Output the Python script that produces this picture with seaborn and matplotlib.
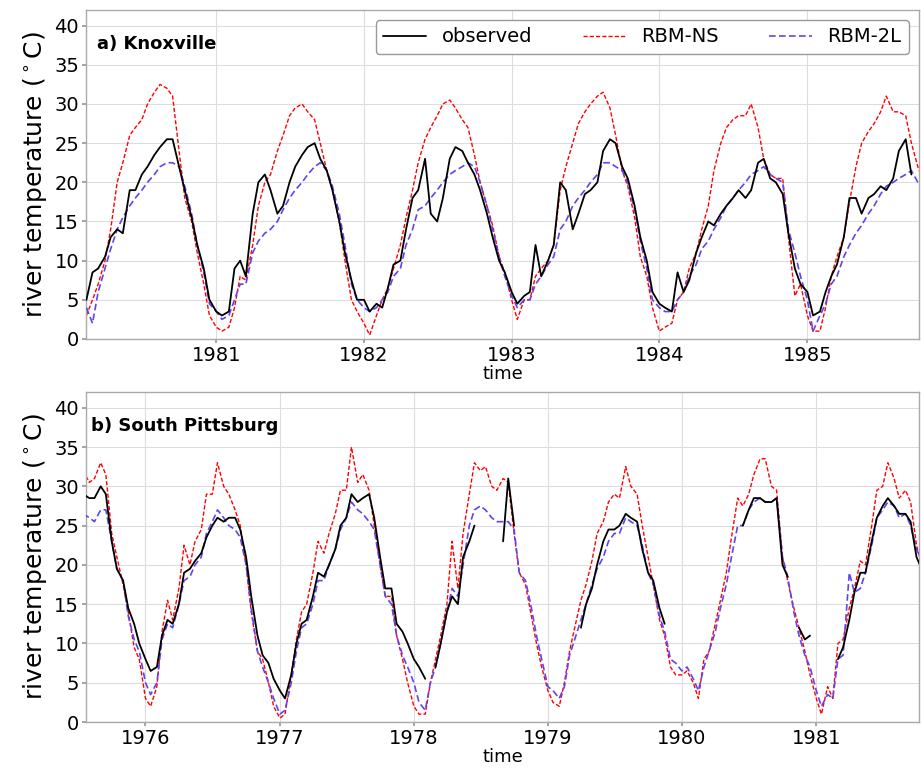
import matplotlib
matplotlib.use("Agg")
import matplotlib.pyplot as plt
import matplotlib.dates as mdates
import numpy as np
import pandas as pd
import seaborn as sns

nan = np.nan

# a) Knoxville -- values read on the 1st and 15th of each month, from 1980-02-15
knox_start = "1980-02-15"
knox_obs = [
    5, 8.5, 9, 10.5, 13, 14, 13.5, 19, 19, 21, 22, 23.5, 24.5, 25.5, 25.5, 22, 19, 15.5, 12, 9, 5,  # 1980
    3.5, 3, 3.5, 9, 10, 8, 16, 20, 21, 19, 16, 17, 20, 22, 23.5, 24.5, 25, 23, 21.5, 19, 15, 11, 7.5, 5,  # 1981
    5, 3.5, 4.5, 4, 6.5, 9.5, 10, 14, 18, 19, 23, 16, 15, 18, 23, 24.5, 24, 22.5, 21, 19, 16, 13, 10, 8.5,  # 1982
    6, 4.5, 5.5, 6, 12, 8, 10, 12, 20, 19, 14, 16, 18.5, 19, 20, 24, 25.5, 25, 22, 20.5, 17, 13, 10, 6,  # 1983
    4.5, 4, 3.5, 8.5, 6, 7.5, 11, 13, 15, 14.5, 16, 17, 18, 19, 18, 19, 22.5, 23, 20.5, 20, 18.5, 13.5, 9, 7,  # 1984
    6, 3, 3.5, 6, 8, 9.5, 13, 18, 18, 16, 18, 18.5, 19.5, 19, 20.5, 24, 25.5, 21, nan, nan,  # 1985
]
knox_ns = [
    3, 5, 7, 10, 14, 20, 22.5, 26, 27, 28, 30, 31.5, 32.5, 32, 31, 24, 18, 15, 11, 7, 3,
    1.5, 1, 1.5, 4, 8, 7.5, 12, 17, 20, 21, 24, 26, 28.5, 29.5, 30, 29, 28, 25, 21.5, 19, 15, 10, 5, 3.5,
    2, 0.5, 3, 5, 6.5, 9, 12, 15.5, 19, 22.5, 25.5, 27, 28.5, 30, 30.5, 29.5, 28, 27, 23.5, 20, 17, 14.5, 10.5, 8.5,
    5, 2.5, 5, 5, 8, 9, 10, 12, 19, 22, 25, 27.5, 29, 30, 31, 31.5, 29.5, 26, 21.5, 19.5, 15.5, 10.5, 8, 4,
    1, 1.5, 2, 5, 6, 9, 11, 14, 17, 21.5, 25, 27, 28, 28.5, 28.5, 30, 27, 23, 21, 20.5, 20.5, 13, 5.5, 7,
    3, 1, 1, 4, 8, 10.5, 13, 17.5, 22, 25, 26.5, 27.5, 29, 31, 29, 29, 28.5, 25, 22, 20,
]
knox_2l = [
    4, 2, 6, 9, 11.5, 14, 15.5, 17, 18, 19, 20, 21, 22, 22.5, 22.5, 22, 19.5, 16, 12, 8.5, 4.5,
    3.5, 2.5, 3, 5, 7, 7, 11, 12.5, 13.5, 14, 15, 16.5, 18, 19, 20, 21, 22, 22.5, 21.5, 19.5, 16, 12, 7, 5,
    4, 3.5, 4, 5, 6, 8, 9, 12, 14, 16.5, 17, 18, 19, 20, 21, 21.5, 22, 22.5, 22, 20, 17, 14, 10.5, 8,
    5.5, 4, 5, 5, 7, 8, 9.5, 10.5, 14, 15, 17, 18, 19, 20, 21, 22.5, 22.5, 22, 21.5, 20, 16.5, 12.5, 9, 5,
    4, 3.5, 3.5, 5, 6, 8, 9.5, 11.5, 12.5, 14, 15.5, 17, 18, 19, 20, 21, 21.5, 22, 21, 20.5, 20, 14, 11, 8,
    5, 1, 3, 4.5, 7, 8, 10.5, 12, 13.5, 14.5, 16, 17, 18.5, 19.5, 20, 20.5, 21, 21.5, 20, 19.5,
]

# b) South Pittsburg -- same sampling, from 1975-07-15
spit_start = "1975-07-15"
spit_obs = [
    29, 28.5, 28.5, 30, 29, 23, 19.5, 18, 14.5, 12.5, 10,  # 1975
    8, 6.5, 7, 11, 13, 12.5, 15, 19, 19.5, 20.5, 21.5, 23.5, 25, 26, 25.5, 26, 26, 24.5, 21, 16, 11, 8.5, 7.5, 5.5,  # 1976
    4, 3, 6, 10, 12.5, 13, 16, 19, 18.5, 20, 22, 25, 26, 29, 28, 28.5, 29, 26, 21, 17, 17, 12.5, 11.5, 10,  # 1977
    8, 7, 5.5, nan, 7, 10, 14, 16, 15, 21, 23, 25, nan, nan, nan, nan, 23, 31, 25, nan, nan, nan, nan, nan,  # 1978
    nan, nan, nan, nan, nan, nan, 12, 15, 17, 20, 23, 24.5, 24.5, 25, 26.5, 26, 25.5, 22, 19, 18, 14.5, 12.5, nan, nan,  # 1979
    nan, nan, nan, nan, nan, nan, nan, nan, nan, nan, nan, 25, 27, 28.5, 28.5, 28, 28, 28.5, 20, 18.5, nan, 12, 10.5, 11,  # 1980
    nan, nan, nan, nan, 8, 9.5, 13, 16.5, 19, 19, 23, 26, 27.5, 28.5, 27.5, 26.5, 26.5, 25.5, 21, 19.5,  # 1981
]
spit_ns = [
    32, 30.5, 31, 33, 31.5, 24, 21, 17.5, 14, 9.5, 8,
    3, 2, 4.5, 11.5, 15.5, 13, 17, 22.5, 20, 23, 24.5, 29, 29, 33, 30, 29, 27, 25, 20, 14, 9, 8, 5, 2,
    0.5, 1, 6, 10.5, 14, 15, 19, 23, 21.5, 24, 26.5, 29.5, 29.5, 35, 30.5, 31.5, 29.5, 25, 20, 16, 16, 11, 8, 5,
    2, 1, 1, 5, 8, 11, 15, 23, 17, 24, 29, 33, 32, 32.5, 30, 29.5, 31, 30.5, 24, 19, 17.5, 14, 10, 7,
    4, 2.5, 2, 5, 9, 12, 15.5, 17.5, 20.5, 24, 25.5, 28, 29, 28.5, 32.5, 30, 29, 25, 21, 17.5, 13, 11, 7, 6,
    6, 6.5, 5, 3, 8, 9, 12.5, 15.5, 19, 23.5, 28.5, 27.5, 29, 31.5, 33.5, 33.5, 30, 29.5, 21, 18, 14.5, 12, 9, 6,
    3, 1, 4.5, 3, 10, 10.5, 14.5, 17, 20.5, 20, 25, 29.5, 30, 33, 31, 28.5, 29.5, 28, 22.5, 20,
]
spit_2l = [
    26.5, 26, 25.5, 27, 27, 23, 19.5, 18, 13.5, 10.5, 9,
    5, 3.5, 5, 10.5, 12.5, 12, 15, 18, 18.5, 20, 21, 24, 25.5, 27, 26, 25, 24.5, 23.5, 20, 14.5, 9, 7, 5, 3,
    1, 1.5, 5, 9, 12, 12.5, 15, 18, 18, 20, 22, 24.5, 26, 28, 27, 26.5, 25.5, 24.5, 20, 16, 15, 11, 8.5, 7,
    5, 2.5, 1.5, 5, 7, 10, 14, 17, 16, 20, 25, 27, 27.5, 27, 26, 25.5, 25.5, 25.5, 24.5, 19, 18, 15, 11, 8,
    4.5, 4, 3, 4.5, 8.5, 10.5, 13, 15, 17.5, 19.5, 21, 23, 24, 24, 26, 25.5, 25, 22.5, 19, 17.5, 13.5, 11.5, 8, 7.5,
    6.5, 7, 5.5, 4, 7, 9, 11.5, 14.5, 17.5, 21, 25, 25, 27, 28, 28.5, 28, 28, 28.5, 21, 18.5, 14, 11, 8.5, 7,
    4, 2, 3.5, 3, 8, 8.5, 19, 16.5, 17, 19, 22.5, 26, 27, 28, 27.5, 26, 26.5, 25, 22, 20.5,
]

series_names = ["observed", "RBM-NS", "RBM-2L"]
series_style = {
    "observed": dict(color="black", linewidth=1.3, zorder=4),
    "RBM-NS": dict(color="red", linewidth=1.0, linestyle=(0, (3, 1.5)), zorder=2),
    "RBM-2L": dict(color="#5f45f0", linewidth=1.2, linestyle=(0, (4, 2)), zorder=3),
}

sns.set_theme(style="whitegrid")
plt.rcParams["font.family"] = ["DejaVu Sans"]
plt.rcParams.update({"text.color": "black", "axes.labelcolor": "black",
                     "xtick.labelcolor": "black", "ytick.labelcolor": "black"})


def draw_panel(ax, start, columns, xlim, tag, tag_x):
    dates = pd.date_range(start, periods=len(columns[0]), freq="SMS")
    for name, vals in zip(series_names, columns):
        df = pd.DataFrame({"date": dates, "temp": vals})
        # break the line where the record has gaps
        df["seg"] = df["temp"].isna().cumsum()
        df = df.dropna()
        sns.lineplot(data=df, x="date", y="temp", units="seg", estimator=None,
                     ax=ax, legend=False, label=name, **series_style[name])

    ax.set_xlim(pd.Timestamp(xlim[0]), pd.Timestamp(xlim[1]))
    ax.set_ylim(0, 42)
    ax.set_yticks(range(0, 41, 5))
    ax.xaxis.set_major_locator(mdates.YearLocator())
    ax.xaxis.set_major_formatter(mdates.DateFormatter("%Y"))
    ax.tick_params(labelsize=14, length=3, color="#999999", labelcolor="black",
                   pad=2, bottom=True, left=True)
    ax.set_xlabel("time", fontsize=13, labelpad=0)
    ax.set_ylabel(r"river temperature ($^\circ$C)", fontsize=18)
    ax.grid(True, color="#dddddd", linewidth=0.8)
    for sp in ax.spines.values():
        sp.set_color("#aaaaaa")
        sp.set_linewidth(1.0)
    ax.text(tag_x, 0.925, tag, transform=ax.transAxes, fontsize=13,
            fontweight="bold", va="top", ha="left")


fig = plt.figure(figsize=(9.21, 7.69), dpi=100)
ax_top = fig.add_axes([0.0934, 0.5592, 0.9045, 0.4278])
ax_bot = fig.add_axes([0.0934, 0.0611, 0.9045, 0.4291])

draw_panel(ax_top, knox_start, [knox_obs, knox_ns, knox_2l],
           ("1980-02-14", "1985-10-04"), "a) Knoxville", 0.013)
draw_panel(ax_bot, spit_start, [spit_obs, spit_ns, spit_2l],
           ("1975-07-23", "1981-10-08"), "b) South Pittsburg", 0.006)

handles, labels = ax_top.get_legend_handles_labels()
uniq = dict(zip(labels, handles))
ax_top.legend([uniq[n] for n in series_names], series_names, loc="upper right",
              ncol=3, fontsize=14, handlelength=2.2, handletextpad=0.8,
              columnspacing=2.6, frameon=True, edgecolor="#999999",
              fancybox=True, framealpha=1.0)

fig.savefig("out.png", dpi=100)
